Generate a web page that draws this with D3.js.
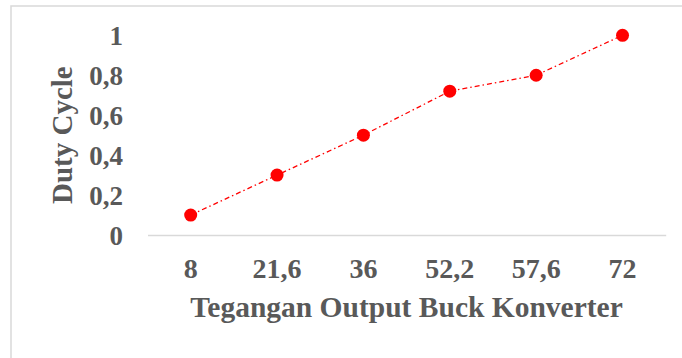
<!DOCTYPE html>
<html>
<head>
<meta charset="utf-8">
<script src="https://cdn.jsdelivr.net/npm/d3@7/dist/d3.min.js"></script>
<style>
  html, body { margin: 0; padding: 0; background: #fff; }
  svg { display: block; }
  text { font-family: "Liberation Serif", "Times New Roman", serif; font-weight: bold; fill: #595959; }
</style>
</head>
<body>
<svg id="chart" width="682" height="358"></svg>
<script>
// Output voltage of the buck converter (categories) and the duty cycle at each
const categories = ["8", "21,6", "36", "52,2", "57,6", "72"];
const dutyCycle = [0.1, 0.3, 0.5, 0.72, 0.8, 1.0];
const yTicks = [0, 0.2, 0.4, 0.6, 0.8, 1];
const xTitle = "Tegangan Output Buck Konverter";
const yTitle = "Duty Cycle";

const svg = d3.select("#chart");

// chart area frame
svg.append("rect")
  .attr("x", 11).attr("y", 6)
  .attr("width", 700).attr("height", 400)
  .attr("fill", "#fff")
  .attr("stroke", "#d9d9d9").attr("stroke-width", 1.5);

const plot = { left: 147.5, right: 665.7, top: 35.3, bottom: 235 };

const x = d3.scaleBand().domain(categories).range([plot.left, plot.right]);
const y = d3.scaleLinear().domain([0, 1]).range([plot.bottom, plot.top]);
const fmt = v => d3.format("~g")(v).replace(".", ",");

// y axis labels (no axis line, no ticks)
const yAxis = d3.axisLeft(y).tickValues(yTicks).tickFormat(fmt).tickSize(0).tickPadding(0);
const gy = svg.append("g").attr("transform", `translate(123,0)`).call(yAxis);
gy.select(".domain").remove();
gy.selectAll("text")
  .attr("font-family", null)
  .style("font-size", "27px")
  .attr("dy", "0.34em");

// x axis: horizontal baseline plus category labels
const xAxis = d3.axisBottom(x).tickSize(0).tickPadding(0);
const gx = svg.append("g").attr("transform", `translate(0,${plot.bottom})`).call(xAxis);
gx.select(".domain").attr("stroke", "#d9d9d9").attr("stroke-width", 1.5);
gx.selectAll("text")
  .attr("font-family", null)
  .style("font-size", "28px")
  .attr("y", 43).attr("dy", 0);

// axis titles
svg.append("text")
  .attr("x", (plot.left + plot.right) / 2).attr("y", 317)
  .attr("text-anchor", "middle")
  .style("font-size", "29.5px")
  .text(xTitle);

svg.append("text")
  .attr("transform", `translate(72,${(plot.top + plot.bottom) / 2}) rotate(-90)`)
  .attr("text-anchor", "middle")
  .style("font-size", "29px")
  .text(yTitle);

// series line and markers
const line = d3.line()
  .x((d, i) => x(categories[i]) + x.bandwidth() / 2)
  .y(d => y(d));

svg.append("path")
  .datum(dutyCycle)
  .attr("d", line)
  .attr("fill", "none")
  .attr("stroke", "#ff0000")
  .attr("stroke-width", 1.3)
  .attr("stroke-dasharray", "5,3,1.5,3");

svg.selectAll("circle.pt")
  .data(dutyCycle)
  .join("circle")
  .attr("class", "pt")
  .attr("cx", (d, i) => x(categories[i]) + x.bandwidth() / 2)
  .attr("cy", d => y(d))
  .attr("r", 6.5)
  .attr("fill", "#ff0000");
</script>
</body>
</html>
